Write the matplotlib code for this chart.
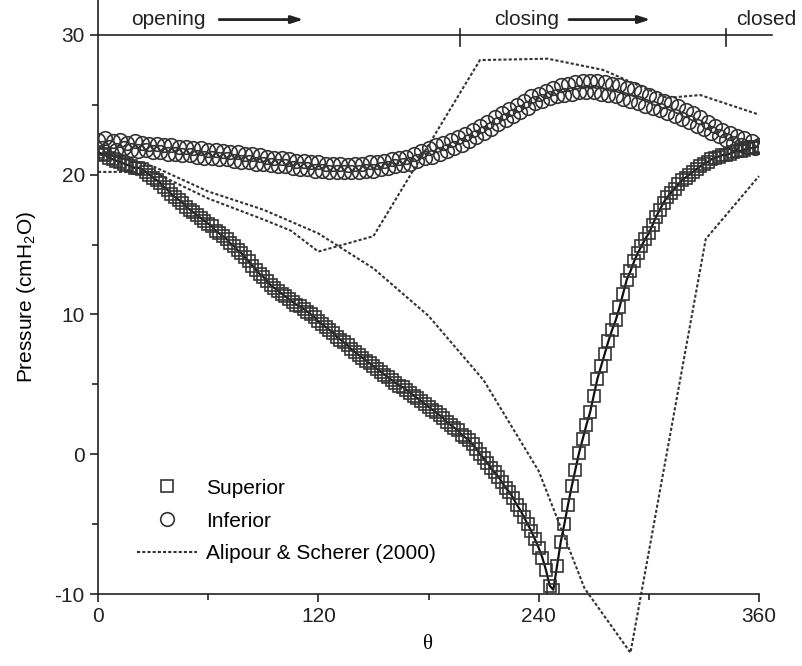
import numpy as np
import matplotlib.pyplot as plt
from matplotlib.ticker import MultipleLocator

plt.rcParams['font.family'] = ['Liberation Sans', 'DejaVu Sans']
plt.rcParams['mathtext.default'] = 'regular'
plt.rcParams['axes.unicode_minus'] = False

# phase angle, 2 degree steps
theta = np.arange(0, 361, 2)

# superior surface pressure (squares)
superior = [
    21.6, 21.5, 21.4, 21.2, 21.1, 21.0, 20.9, 20.8, 20.7, 20.6,
    20.5, 20.5, 20.4, 20.2, 20.0, 19.8, 19.6, 19.4, 19.1, 18.9,
    18.6, 18.4, 18.2, 18.0, 17.7, 17.5, 17.3, 17.1, 16.9, 16.7,
    16.5, 16.3, 16.0, 15.8, 15.6, 15.4, 15.1, 14.9, 14.6, 14.4,
    14.1, 13.8, 13.5, 13.2, 12.9, 12.7, 12.4, 12.1, 11.9, 11.7,
    11.5, 11.3, 11.1, 10.9, 10.7, 10.6, 10.4, 10.2, 10.0, 9.8,
    9.5, 9.3, 9.1, 8.9, 8.7, 8.4, 8.2, 8.0, 7.8, 7.5,
    7.3, 7.1, 6.9, 6.7, 6.5, 6.3, 6.1, 5.9, 5.7, 5.5,
    5.3, 5.1, 4.9, 4.8, 4.6, 4.4, 4.2, 4.0, 3.8, 3.6,
    3.4, 3.2, 3.0, 2.8, 2.6, 2.3, 2.1, 1.9, 1.7, 1.4,
    1.2, 1.0, 0.7, 0.4, 0.0, -0.3, -0.6, -1.0, -1.3, -1.6,
    -2.0, -2.4, -2.7, -3.1, -3.6, -4.0, -4.5, -5.0, -5.5, -6.1,
    -6.7, -7.4, -8.3, -9.4, -9.7, -8.0, -6.3, -5.0, -3.6, -2.3,
    -1.1, 0.1, 1.1, 2.1, 3.0, 4.2, 5.4, 6.3, 7.2, 8.1,
    8.9, 9.6, 10.5, 11.5, 12.5, 13.1, 13.8, 14.4, 14.9, 15.4,
    15.8, 16.4, 17.0, 17.5, 18.0, 18.4, 18.7, 19.0, 19.3, 19.6,
    19.8, 20.0, 20.2, 20.4, 20.6, 20.8, 20.9, 21.1, 21.2, 21.3,
    21.4, 21.4, 21.5, 21.6, 21.7, 21.7, 21.8, 21.9, 21.9, 22.0,
    22.0,
]

# inferior surface pressure (circles)
inferior = [
    22.5, 21.9, 22.6, 22.0, 22.4, 21.8, 22.5, 21.9, 22.3, 21.8,
    22.4, 21.7, 22.3, 21.8, 22.2, 21.6, 22.2, 21.6, 22.1, 21.5,
    22.1, 21.5, 22.0, 21.4, 22.0, 21.4, 21.9, 21.3, 21.9, 21.2,
    21.8, 21.2, 21.8, 21.1, 21.7, 21.1, 21.6, 21.0, 21.6, 20.9,
    21.5, 20.9, 21.5, 20.8, 21.4, 20.8, 21.3, 20.7, 21.2, 20.6,
    21.2, 20.6, 21.1, 20.5, 21.0, 20.4, 21.0, 20.4, 20.9, 20.3,
    20.9, 20.3, 20.8, 20.2, 20.8, 20.2, 20.8, 20.2, 20.7, 20.2,
    20.8, 20.2, 20.8, 20.3, 20.9, 20.3, 20.9, 20.4, 21.0, 20.5,
    21.1, 20.6, 21.2, 20.7, 21.3, 20.8, 21.5, 21.0, 21.7, 21.2,
    21.9, 21.3, 22.1, 21.5, 22.3, 21.7, 22.5, 21.9, 22.7, 22.1,
    22.9, 22.4, 23.2, 22.7, 23.5, 23.0, 23.8, 23.3, 24.1, 23.6,
    24.4, 23.9, 24.7, 24.2, 25.0, 24.5, 25.3, 24.8, 25.6, 25.1,
    25.8, 25.3, 26.0, 25.5, 26.2, 25.6, 26.4, 25.7, 26.5, 25.8,
    26.6, 25.9, 26.7, 25.9, 26.7, 25.9, 26.7, 25.8, 26.6, 25.7,
    26.5, 25.6, 26.4, 25.4, 26.2, 25.3, 26.1, 25.1, 25.9, 24.9,
    25.7, 24.8, 25.5, 24.6, 25.3, 24.4, 25.1, 24.2, 24.9, 24.0,
    24.6, 23.8, 24.4, 23.5, 24.1, 23.3, 23.8, 23.0, 23.5, 22.8,
    23.2, 22.5, 23.0, 22.3, 22.8, 22.1, 22.6, 22.0, 22.4, 21.9,
    22.1,
]

# Alipour & Scherer (2000) curves
alipour_a_theta = [0, 30, 60, 90, 105, 120, 150, 208, 245, 275, 310, 328, 360]
alipour_a = [20.2, 20.2, 18.3, 16.8, 16.0, 14.5, 15.6, 28.2, 28.3, 27.5, 25.5, 25.7, 24.3]
alipour_b_theta = [0, 30, 60, 90, 120, 150, 180, 210, 240, 265, 290, 331, 360]
alipour_b = [21.6, 20.6, 18.8, 17.5, 15.8, 13.3, 9.9, 5.3, -1.2, -9.6, -14.2, 15.4, 19.9]

# phase bar on top
phase_ticks = [197, 342]
phase_labels = ['opening', 'closing', 'closed']
phase_label_x = [18, 215.7, 347.5]
arrows = [(66, 112), (256.5, 301)]

ink = '#222222'

fig = plt.figure(figsize=(8.02, 6.66), dpi=100)
ax = fig.add_axes([98 / 802, 72 / 666, 661 / 802, 594 / 666])

ax.plot(alipour_a_theta, alipour_a, color='#333333', lw=1.5,
        linestyle=(0, (1.5, 1.0)), label='Alipour & Scherer (2000)', zorder=2)
ax.plot(alipour_b_theta, alipour_b, color='#333333', lw=1.5,
        linestyle=(0, (1.5, 1.0)), zorder=2, clip_on=False)

ax.plot(theta, superior, color='#111111', lw=1.6, zorder=3)
ax.plot(theta, superior, 's', ms=8.5, mfc='none', mec='#333333', mew=1.2,
        label='Superior', zorder=4)
ax.plot(theta, inferior, 'o', ms=9.8, mfc='none', mec='#333333', mew=1.2,
        label='Inferior', zorder=4)

# phase bar
ax.plot([0, 367], [30, 30], color=ink, lw=1.2, clip_on=False)
for t in phase_ticks:
    ax.plot([t, t], [29.2, 30.4], color=ink, lw=1.2, clip_on=False)
for x, s in zip(phase_label_x, phase_labels):
    ax.text(x, 31.1, s, fontsize=15, va='center', ha='left', color=ink, clip_on=False)
for x0, x1 in arrows:
    ax.annotate('', xy=(x1, 31.1), xytext=(x0, 31.1),
                arrowprops=dict(arrowstyle='-|>,head_length=0.7,head_width=0.22',
                                color=ink, lw=2.0, shrinkA=0, shrinkB=0))

ax.set_xlim(0, 360)
ax.set_ylim(-10, 32.5)
ax.set_xticks([0, 120, 240, 360])
ax.xaxis.set_minor_locator(MultipleLocator(60))
ax.set_yticks([-10, 0, 10, 20, 30])
ax.yaxis.set_minor_locator(MultipleLocator(5))
ax.tick_params(which='major', direction='out', length=6, width=1.2,
               labelsize=15, colors=ink)
ax.tick_params(which='minor', direction='out', length=4, width=1.2, colors=ink)
for side in ['top', 'right']:
    ax.spines[side].set_visible(False)
for side in ['left', 'bottom']:
    ax.spines[side].set_linewidth(1.2)
    ax.spines[side].set_color(ink)

ax.set_xlabel('θ', fontsize=15, fontfamily='Liberation Serif', labelpad=6)
ax.set_ylabel('Pressure (cmH$_2$O)', fontsize=15, labelpad=12)

handles, labels = ax.get_legend_handles_labels()
order = [labels.index('Superior'), labels.index('Inferior'),
         labels.index('Alipour & Scherer (2000)')]
ax.legend([handles[i] for i in order], [labels[i] for i in order],
          loc='upper left', bbox_to_anchor=(0.059, 0.194), frameon=False,
          fontsize=15, borderpad=0, borderaxespad=0, handlelength=2.9,
          handletextpad=0.4, labelspacing=0.66, numpoints=1)

fig.savefig('out.png', dpi=100)
